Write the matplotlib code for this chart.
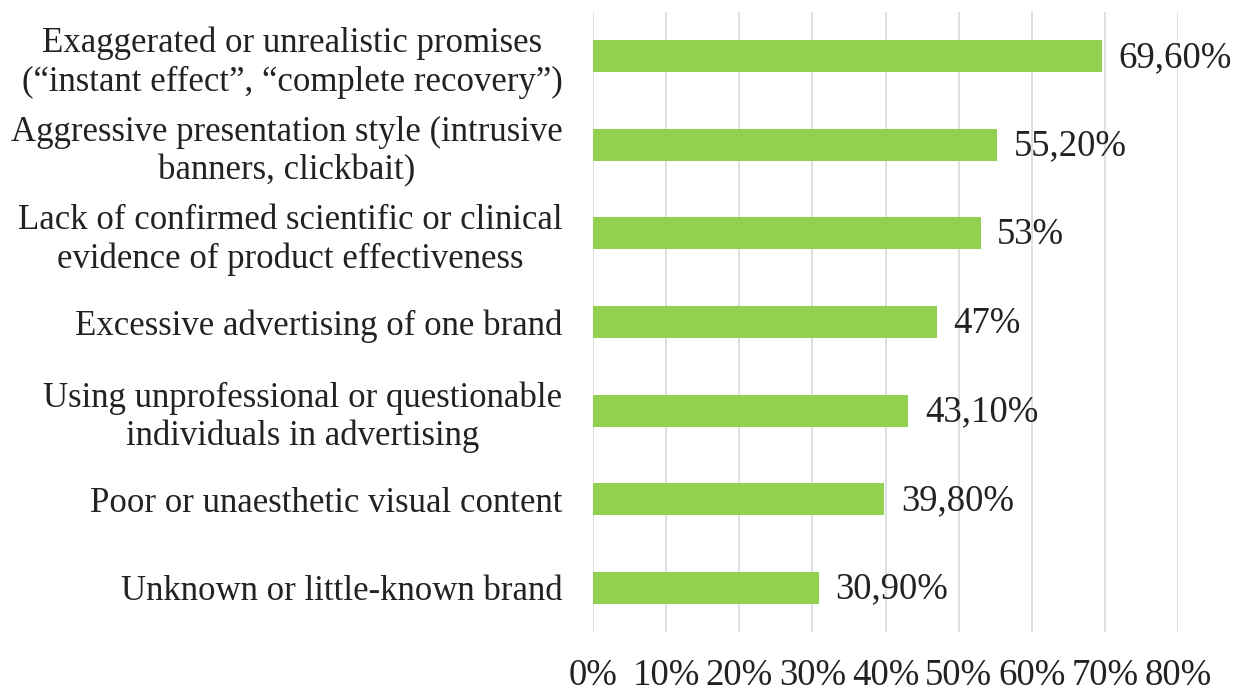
import matplotlib.pyplot as plt
import matplotlib.ticker as mticker

plt.rcParams['font.family'] = ['Liberation Serif', 'DejaVu Serif']

# Reasons for distrust of advertising, share of respondents (%)
reasons = [
    "Exaggerated or unrealistic promises\n(\u201cinstant effect\u201d, \u201ccomplete recovery\u201d)",
    "Aggressive presentation style (intrusive\nbanners, clickbait)",
    "Lack of confirmed scientific or clinical\nevidence of product effectiveness",
    "Excessive advertising of one brand",
    "Using unprofessional or questionable\nindividuals in advertising",
    "Poor or unaesthetic visual content",
    "Unknown or little-known brand",
]
shares = [69.6, 55.2, 53.0, 47.0, 43.1, 39.8, 30.9]
share_labels = ["69,60%", "55,20%", "53%", "47%", "43,10%", "39,80%", "30,90%"]
x_ticks = [0, 10, 20, 30, 40, 50, 60, 70, 80]

fig = plt.figure(figsize=(12.33, 6.93), dpi=100)
ax = fig.add_axes([593 / 1233, 1 - 632 / 693, (1178 - 593) / 1233, (632 - 12) / 693])

pos = list(range(len(reasons)))
bars = ax.barh(pos, shares, height=0.36, color='#92D050', zorder=3)

for bar, lab in zip(bars, share_labels):
    ax.annotate(lab, (bar.get_width(), bar.get_y() + bar.get_height() / 2),
                xytext=(12, -1), textcoords='offset points',
                va='center', ha='left', fontsize=26.5, color='#222222')

ax.set_xlim(0, 80)
ax.set_ylim(len(reasons) - 0.5, -0.5)
ax.set_xticks(x_ticks)
ax.xaxis.set_major_formatter(mticker.FuncFormatter(lambda v, _: f"{v:.0f}%"))
ax.set_yticks(pos)
ax.set_yticklabels(reasons, fontsize=25, multialignment='center', color='#222222')

ax.tick_params(axis='x', length=0, pad=19, labelsize=26.5, labelcolor='#222222')
ax.tick_params(axis='y', length=0, pad=22)
ax.grid(axis='x', color='#D9D9D9', linewidth=1.2, zorder=0)
for s in ax.spines.values():
    s.set_visible(False)

fig.savefig('out.png', dpi=100)
